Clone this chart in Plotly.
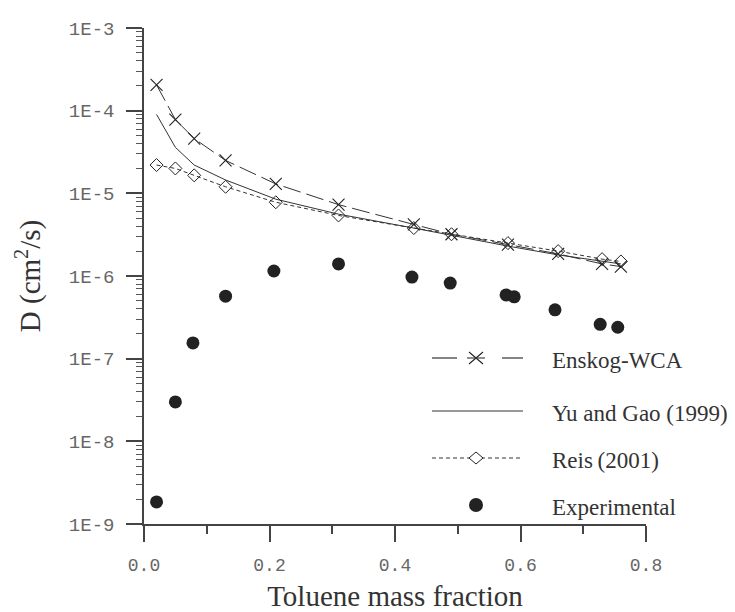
import plotly.graph_objects as go

# ---- data ----
x_model = [0.02, 0.05, 0.08, 0.13, 0.21, 0.31, 0.43, 0.49, 0.58, 0.66, 0.73, 0.76]
enskog_wca = [2.05e-4, 7.8e-5, 4.6e-5, 2.5e-5, 1.3e-5, 7.3e-6, 4.2e-6, 3.2e-6, 2.4e-6, 1.85e-6, 1.4e-6, 1.3e-6]
yu_gao = [9.0e-5, 3.6e-5, 2.2e-5, 1.45e-5, 8.5e-6, 5.6e-6, 3.8e-6, 3.1e-6, 2.3e-6, 1.8e-6, 1.5e-6, 1.4e-6]
reis = [2.2e-5, 2.0e-5, 1.65e-5, 1.2e-5, 7.8e-6, 5.4e-6, 3.8e-6, 3.2e-6, 2.5e-6, 2.0e-6, 1.6e-6, 1.5e-6]

x_exp = [0.02, 0.05, 0.078, 0.13, 0.207, 0.31, 0.427, 0.488, 0.577, 0.59, 0.655, 0.727, 0.755]
d_exp = [1.85e-9, 3.0e-8, 1.55e-7, 5.7e-7, 1.15e-6, 1.4e-6, 9.7e-7, 8.2e-7, 5.9e-7, 5.6e-7, 3.9e-7, 2.6e-7, 2.4e-7]

x_ticks = [0.0, 0.2, 0.4, 0.6, 0.8]
x_tick_text = ["0.0", "0.2", "0.4", "0.6", "0.8"]
y_ticks = [1e-9, 1e-8, 1e-7, 1e-6, 1e-5, 1e-4, 1e-3]
y_tick_text = ["1E-9", "1E-8", "1E-7", "1E-6", "1E-5", "1E-4", "1E-3"]

legend_names = ["Enskog-WCA", "Yu and Gao (1999)", "Reis\u2009(2001)", "Experimental"]

LINE = "#333333"
INK = "#222222"
SERIF = "Liberation Serif, Times New Roman, serif"

fig = go.Figure()

fig.add_trace(go.Scatter(
    x=x_model, y=enskog_wca, mode="lines+markers", name=legend_names[0],
    line=dict(color=LINE, width=1, dash="18px,6px"),
    marker=dict(symbol="x-thin-open", size=12, color=INK, line=dict(width=1.1, color=INK)),
    showlegend=False))
fig.add_trace(go.Scatter(
    x=x_model, y=yu_gao, mode="lines", name=legend_names[1],
    line=dict(color=LINE, width=1), showlegend=False))
fig.add_trace(go.Scatter(
    x=x_model, y=reis, mode="lines+markers", name=legend_names[2],
    line=dict(color=LINE, width=1, dash="4px,3px"),
    marker=dict(symbol="diamond-open", size=10, color=INK, line=dict(width=1, color=INK)),
    showlegend=False))
fig.add_trace(go.Scatter(
    x=x_exp, y=d_exp, mode="markers", name=legend_names[3],
    marker=dict(symbol="circle", size=13, color=INK), showlegend=False))

# ---- hand-drawn legend (paper coordinates) ----
def px_x(p):
    return (p - 144) / 502.0

def px_y(p):
    return (524 - p) / 496.0

rows = [358, 411, 458, 505]
x_a, x_b, x_mid, x_txt = 432, 523, 476, 550
shapes = []
# Enskog: dash - X - dash
shapes.append(dict(type="line", xref="paper", yref="paper", x0=px_x(432), x1=px_x(457),
                   y0=px_y(rows[0]), y1=px_y(rows[0]), line=dict(color=LINE, width=1.2)))
shapes.append(dict(type="line", xref="paper", yref="paper", x0=px_x(502), x1=px_x(523),
                   y0=px_y(rows[0]), y1=px_y(rows[0]), line=dict(color=LINE, width=1.2)))
for sgn in (1, -1):
    shapes.append(dict(type="line", xref="paper", yref="paper",
                       xsizemode="pixel", ysizemode="pixel",
                       xanchor=px_x(x_mid), yanchor=px_y(rows[0]),
                       x0=-7, x1=7, y0=-6 * sgn, y1=6 * sgn,
                       line=dict(color=INK, width=1.1)))
shapes.append(dict(type="line", xref="paper", yref="paper",
                   xsizemode="pixel", xanchor=px_x(x_mid), x0=-9, x1=9,
                   y0=px_y(rows[0]), y1=px_y(rows[0]), line=dict(color=LINE, width=1.1)))
# Yu and Gao: solid
shapes.append(dict(type="line", xref="paper", yref="paper", x0=px_x(x_a), x1=px_x(x_b),
                   y0=px_y(rows[1]), y1=px_y(rows[1]), line=dict(color=LINE, width=1.2)))
# Reis: dotted with diamond
shapes.append(dict(type="line", xref="paper", yref="paper", x0=px_x(x_a), x1=px_x(x_b),
                   y0=px_y(rows[2]), y1=px_y(rows[2]),
                   line=dict(color=LINE, width=1.2, dash="4px,3px")))
shapes.append(dict(type="path", xref="paper", yref="paper",
                   xsizemode="pixel", ysizemode="pixel",
                   xanchor=px_x(x_mid), yanchor=px_y(rows[2]),
                   path="M0,6 L7,0 L0,-6 L-7,0 Z",
                   fillcolor="white", line=dict(color=INK, width=1)))
# Experimental: filled circle
shapes.append(dict(type="circle", xref="paper", yref="paper",
                   xsizemode="pixel", ysizemode="pixel",
                   xanchor=px_x(x_mid), yanchor=px_y(rows[3]),
                   x0=-7, x1=7, y0=-7, y1=7,
                   fillcolor=INK, line=dict(color=INK, width=0)))

annotations = []
for name, r in zip(legend_names, rows):
    annotations.append(dict(text=name, xref="paper", yref="paper", x=px_x(x_txt), y=px_y(r + 2),
                            xanchor="left", yanchor="middle", showarrow=False,
                            font=dict(family=SERIF, size=23, color="#333333")))

fig.update_layout(
    width=735, height=612,
    margin=dict(l=144, r=89, t=28, b=88),
    paper_bgcolor="white", plot_bgcolor="white",
    shapes=shapes, annotations=annotations,
    showlegend=False,
)

fig.update_xaxes(
    range=[0, 0.8], showgrid=False, zeroline=False, automargin=False,
    showline=True, linecolor="#444444", linewidth=1.5,
    tickmode="array", tickvals=x_ticks, ticktext=x_tick_text,
    ticks="outside", ticklen=16, tickwidth=1.5, tickcolor="#444444",
    ticklabelstandoff=8,
    minor=dict(ticks="outside", ticklen=8, tickwidth=1.5, tickcolor="#444444", dtick=0.1, showgrid=False),
    tickfont=dict(family="Liberation Mono, DejaVu Sans Mono, monospace", size=18, color="#666666"),
    title=dict(text="Toluene mass fraction", standoff=12,
               font=dict(family=SERIF, size=29, color="#333333")),
)

fig.update_yaxes(
    type="log", range=[-9, -3], showgrid=False, zeroline=False, automargin=False,
    showline=True, linecolor="#444444", linewidth=1.5,
    tickmode="array", tickvals=y_ticks, ticktext=y_tick_text,
    ticks="outside", ticklen=16, tickwidth=1.5, tickcolor="#444444",
    ticklabelstandoff=8,
    minor=dict(ticks="outside", ticklen=6, tickwidth=1, tickcolor="#555555", dtick="D1", showgrid=False),
    tickfont=dict(family="Liberation Mono, DejaVu Sans Mono, monospace", size=19, color="#666666"),
    title=dict(text="D (cm<sup>2</sup>/s)", standoff=20,
               font=dict(family=SERIF, size=29, color="#333333")),
)

fig.write_html("out.html")
